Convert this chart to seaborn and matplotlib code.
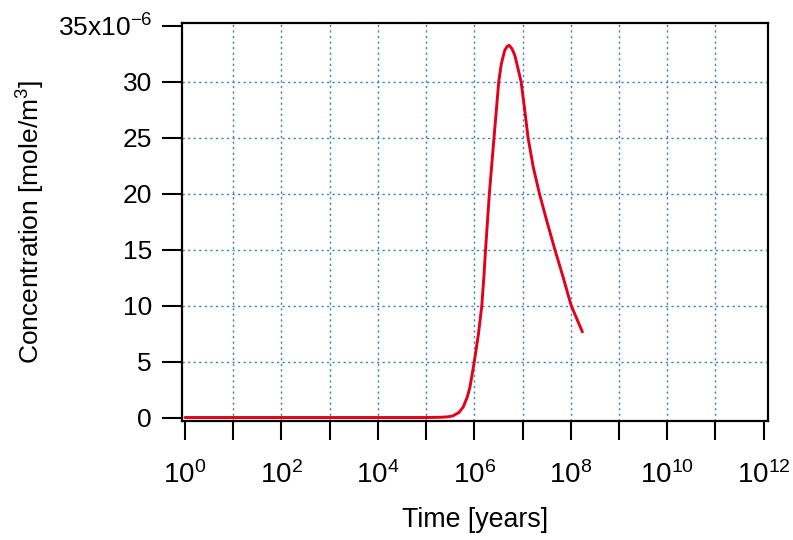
import matplotlib
matplotlib.use("Agg")
import matplotlib.pyplot as plt
import matplotlib.ticker as mticker
import seaborn as sns
import pandas as pd

# Concentration history (time in years, concentration in 1e-6 mole/m^3)
time_years = [1, 10, 100, 1e3, 1e4, 1e5, 2.0e5, 2.8e5, 3.6e5, 4.8e5,
              5.9e5, 7.1e5, 8.1e5, 1.0e6, 1.22e6, 1.43e6, 1.58e6, 1.71e6,
              2.05e6, 2.56e6, 3.21e6, 3.63e6, 4.27e6, 4.79e6, 5.25e6,
              6.03e6, 6.92e6, 9.33e6, 1.10e7, 1.30e7, 1.66e7, 2.24e7,
              3.16e7, 4.68e7, 6.92e7, 1.02e8, 1.74e8]
concentration = [0.0, 0.0, 0.0, 0.0, 0.0, 0.0, 0.02, 0.06, 0.15, 0.45,
                 0.95, 1.8, 2.7, 5.0, 7.5, 10.0, 12.6, 15.0,
                 20.0, 25.0, 30.0, 31.6, 32.8, 33.15, 33.25,
                 32.95, 32.35, 30.0, 27.6, 25.0, 22.4, 20.0,
                 17.6, 15.0, 12.55, 10.0, 7.65]

x_ticks = [10.0 ** k for k in range(0, 13)]
x_tick_labels = [f"10$^{{{k}}}$" if k % 2 == 0 else "" for k in range(0, 13)]
y_ticks = [0, 5, 10, 15, 20, 25, 30, 35]
y_tick_labels = ["0", "5", "10", "15", "20", "25", "30", "35x10$^{-6}$"]

sns.set_style("white")
plt.rcParams["font.family"] = ["Liberation Sans", "DejaVu Sans"]
plt.rcParams["mathtext.default"] = "regular"
plt.rcParams["mathtext.fontset"] = "custom"
plt.rcParams["mathtext.rm"] = "Liberation Sans"
for key in ("text.color", "axes.labelcolor", "xtick.color", "ytick.color"):
    plt.rcParams[key] = "black"

df = pd.DataFrame({"time": time_years, "conc": concentration})

fig = plt.figure(figsize=(7.93, 5.40), dpi=100)
ax = fig.add_axes([0.2301, 0.2204, 0.9685 - 0.2301, 0.958 - 0.2204])

sns.lineplot(data=df, x="time", y="conc", ax=ax, color="#e3001b",
             linewidth=2.1, zorder=3)

ax.set_xscale("log")
ax.set_xlim(10 ** -0.052, 10 ** 12.09)
ax.set_ylim(-0.31, 35.27)

ax.xaxis.set_major_locator(mticker.FixedLocator(x_ticks))
ax.xaxis.set_major_formatter(mticker.FixedFormatter(x_tick_labels))
ax.xaxis.set_minor_locator(mticker.NullLocator())
ax.yaxis.set_major_locator(mticker.FixedLocator(y_ticks))
ax.yaxis.set_major_formatter(mticker.FixedFormatter(y_tick_labels))

ax.tick_params(axis="x", direction="out", length=13.7, width=1.5,
               labelsize=20, pad=15.5, bottom=True, top=False)
ax.tick_params(axis="y", direction="out", length=14.4, width=1.5,
               labelsize=19, pad=7.5, left=True, right=False)

for spine in ax.spines.values():
    spine.set_visible(True)
    spine.set_color("black")
    spine.set_linewidth(1.6)

ax.grid(True, which="major", color="#3b82c4", linestyle=(0, (1.6, 2.4)),
        linewidth=1.0)
# hide grid lines lying on the frame
xg = ax.xaxis.get_gridlines()
xg[0].set_visible(False)
xg[-1].set_visible(False)
yg = ax.yaxis.get_gridlines()
yg[0].set_visible(False)
yg[-1].set_visible(False)

ax.set_xlabel("Time [years]", fontsize=19.3)
ax.set_ylabel("Concentration [mole/m$^{3}$]", fontsize=19)
ax.xaxis.set_label_coords(0.5, -0.216)
ax.yaxis.set_label_coords(-0.2314, 0.5)

fig.savefig("out.png", dpi=100)
